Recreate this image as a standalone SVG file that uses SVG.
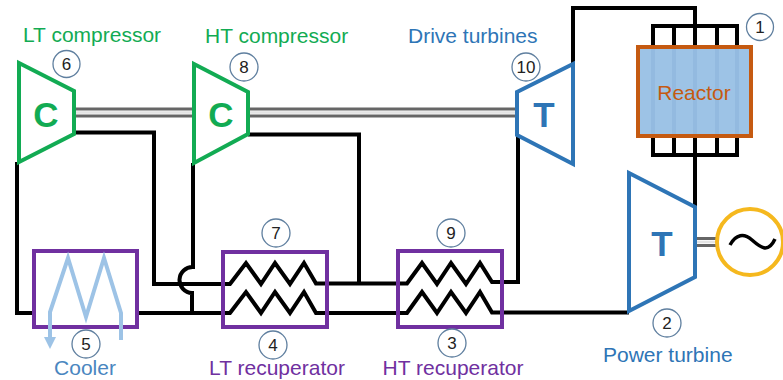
<svg xmlns="http://www.w3.org/2000/svg" width="783" height="380" viewBox="0 0 783 380">
<style>
text{font-family:"Liberation Sans",Arial,sans-serif}
.lbl{font-size:21px}
.g{fill:#12AB53}.b{fill:#2E75B6}.p{fill:#7030A0}.c{fill:#4A86C0}
.w{fill:none;stroke:#000;stroke-width:4;stroke-linejoin:miter}
.eq{fill:#fff;stroke-width:4;stroke-linejoin:miter}
.box{fill:none;stroke:#7030A0;stroke-width:4}
.n{fill:#fff;stroke:#5F7F9F;stroke-width:1.3}
.nt{font-size:17px;fill:#222;text-anchor:middle}
.big{font-size:35px;font-weight:bold;text-anchor:middle}
.sh{stroke:#666;stroke-width:3;fill:none}
.sl{stroke:#e4e4e4;stroke-width:2.5;fill:none}
.cool{fill:none;stroke:#9DC3E6;stroke-width:4}
</style>
<g id="connectors">
<path class="sl" d="M75 112.500H193M250 112.500H516M697 242H716"/>
<path class="sh" d="M75 109H193M75 116H193M250 109H516M250 116H516M697 238.500H716M697 245.500H716"/>
<path class="w" d="M74 132.500H154V284H230L246 263L261 284L275 263L290 284L304 263L316 283.500H407L422 263L437 284L451 263L466 284L480 263L492 282H518V135"/>
<path class="w" d="M248 134.500H359V284"/>
<path class="w" d="M17 162V313H33M137 313H230L246 292L261 313L275 292L290 313L304 292L316 313H407L422 292L437 313L451 292L466 313L480 292L492 312.500H629"/>
<path class="w" d="M193 163V267A13 13 0 0 0 192 293V313"/>
<path class="w" d="M573 64V8H695V47"/>
<path class="w" d="M653 45V26H737V45M674 26V45M717 26V45"/>
<path class="w" d="M653 136V155H737V136M674 136V155M695 136V207M717 136V155"/>
</g>
<g id="reactor">
<rect x="638" y="47" width="113" height="89" fill="#9DC3E6" stroke="#C55A11" stroke-width="4"/>
<path d="M653 49V134M674 49V134M695 49V134M717 49V134M737 49V134" stroke="#93BAE0" stroke-width="4" fill="none"/>
<text x="694" y="100" font-size="21" fill="#C55A11" text-anchor="middle">Reactor</text>
<circle class="n" cx="760" cy="27" r="13.500"/><text class="nt" x="760" y="33">1</text>
</g>
<g id="lt-compressor">
<path class="eq" stroke="#12AB53" d="M19 63L74 91V134L19 162Z"/>
<text class="big g" x="46" y="127">C</text>
<text class="lbl g" x="23" y="42">LT compressor</text>
<circle class="n" cx="66.500" cy="64" r="13.500"/><text class="nt" x="66.500" y="70">6</text>
</g>
<g id="ht-compressor">
<path class="eq" stroke="#12AB53" d="M194 64L248 92V134L194 163Z"/>
<text class="big g" x="221" y="127">C</text>
<text class="lbl g" x="205" y="43">HT compressor</text>
<circle class="n" cx="244" cy="67" r="14"/><text class="nt" x="244" y="73">8</text>
</g>
<g id="drive-turbine">
<path class="eq" stroke="#2E75B6" d="M517 92L573 64V164L517 135Z"/>
<text class="big b" x="544" y="127">T</text>
<text class="lbl b" x="408" y="43">Drive turbines</text>
<circle class="n" cx="526" cy="67" r="14"/><text class="nt" x="526" y="73">10</text>
</g>
<g id="power-turbine">
<path class="eq" stroke="#2E75B6" d="M629 173L695 207V277L629 311Z"/>
<text class="big b" x="662" y="256">T</text>
<text class="lbl b" x="603" y="362">Power turbine</text>
<circle class="n" cx="667" cy="323" r="14"/><text class="nt" x="667" y="329">2</text>
</g>
<g id="generator">
<circle cx="750" cy="242" r="33" fill="#fff" stroke="#F5B81E" stroke-width="4"/>
<path d="M730 245C736 234 744 233 752 240S768 254 775 239" fill="none" stroke="#000" stroke-width="3.500"/>
</g>
<g id="cooler">
<rect class="box" x="34" y="251" width="103" height="76"/>
<path class="cool" d="M50 340V312L68 258L86 317L104 258L121 313V340"/>
<path d="M44 337H56L50 349Z" fill="#9DC3E6"/>
<text class="lbl c" x="85" y="375" text-anchor="middle">Cooler</text>
<circle class="n" cx="86" cy="344" r="14"/><text class="nt" x="86" y="350">5</text>
</g>
<g id="lt-recuperator">
<rect class="box" x="223" y="252" width="104" height="75"/>
<text class="lbl p" x="277" y="375" text-anchor="middle">LT recuperator</text>
<circle class="n" cx="273" cy="345" r="14"/><text class="nt" x="273" y="351">4</text>
<circle class="n" cx="276" cy="233" r="14"/><text class="nt" x="276" y="239">7</text>
</g>
<g id="ht-recuperator">
<rect class="box" x="398" y="251" width="104" height="76"/>
<text class="lbl p" x="453" y="375" text-anchor="middle">HT recuperator</text>
<circle class="n" cx="452" cy="343" r="14"/><text class="nt" x="452" y="349">3</text>
<circle class="n" cx="451" cy="233" r="14"/><text class="nt" x="451" y="239">9</text>
</g>
</svg>
